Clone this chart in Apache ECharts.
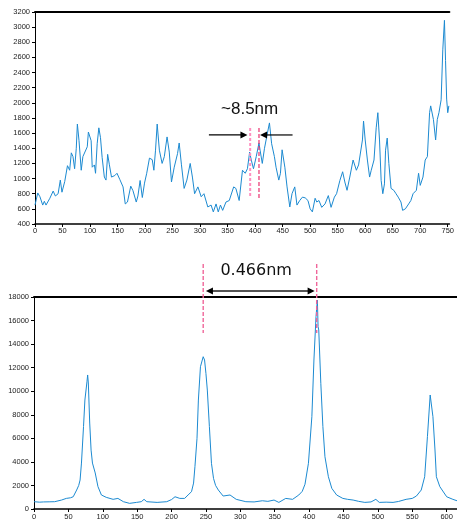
<!DOCTYPE html>
<html>
<head>
<meta charset="utf-8">
<script src="https://cdn.jsdelivr.net/npm/echarts@6/dist/echarts.min.js"></script>
<style>
  html, body { margin: 0; padding: 0; background: #fff; }
  #chart { width: 457px; height: 525px; }
</style>
</head>
<body>
<div id="chart"></div>
<script>
// --- top profile (~8.5nm fringe) ---
var topX = [0,5,9,14,17,20,27,33,37,42,46,49,54,59,63,66,69,72,75,77,80,84,87,90,95,97,102,104,108,110,
  113,116,119,122,126,129,132,135,139,145,149,154,160,164,168,174,178,184,187,191,195,199,203,208,213,216,
  219,222,226,231,235,240,244,248,253,259,262,266,271,276,282,286,290,296,302,307,314,320,324,329,333,337,
  341,347,353,361,365,371,377,382,386,390,393,397,402,407,409,413,417,421,426,430,435,438,443,446,449,454,
  458,463,467,472,476,481,486,491,496,500,504,509,512,516,521,527,533,538,544,548,554,559,563,567,572,578,
  584,588,595,597,600,604,608,611,616,620,623,626,629,632,635,637,640,643,647,652,656,660,665,668,673,679,
  683,687,693,697,700,705,709,713,717,719,724,728,731,734,738,741,744,746,748,750,752];
var topY = [650,810,760,650,700,650,740,835,770,800,980,820,960,1170,1110,1340,1290,1130,1400,1720,1500,1110,1290,1270,1420,1615,1500,1150,1180,1070,
  1460,1670,1540,1280,1020,980,1320,1190,1020,1040,1070,990,890,665,690,900,840,690,770,975,750,940,1070,1270,1250,1110,
  1375,1720,1375,1200,1290,1550,1350,955,1150,1330,1470,1190,870,980,1200,1020,800,890,760,800,625,650,560,665,560,650,
  580,690,710,890,870,710,1110,1070,1130,1350,1245,1130,1290,1470,1375,1200,1400,1550,1735,1460,1290,1150,980,1070,1380,1150,
  890,625,800,890,650,710,755,745,710,600,560,740,690,710,620,665,775,620,755,800,975,1090,955,845,1020,1245,
  1110,1180,1510,1760,1510,1245,1020,1110,1245,1670,1870,1510,975,800,930,1375,1535,1200,870,845,800,755,690,580,600,665,
  710,800,845,1070,910,1020,1245,1290,1870,1960,1780,1510,1780,1870,2040,2700,3090,2560,2050,1870,1960];

// --- bottom profile (0.466nm lattice) ---
var botX = [0,8,14,22,30,40,47,53,57,62,65,67,69,72,74,77,78,79,81,83,85,89,93,98,105,115,122,130,139,149,
  156,160,164,179,193,200,205,212,219,224,229,232,234,237,239,242,246,248,250,252,255,258,261,264,268,275,
  285,294,308,320,332,340,349,356,366,376,385,390,394,399,404,407,410,412,413,414,417,420,423,428,433,440,
  449,456,464,472,481,490,497,502,512,522,530,541,550,556,563,568,572,576,578,580,583,585,590,600,609,615];
var botY = [620,580,600,610,620,760,900,950,1040,1610,2000,2460,3900,7000,9250,10800,11380,10700,7300,5000,3900,3060,1900,1190,990,820,900,620,480,560,
  620,820,620,560,620,800,1040,900,900,1190,1470,2200,3600,6000,9250,12080,12930,12650,11500,10100,7000,3880,2600,2000,1610,1100,
  1190,820,620,600,700,650,760,560,900,820,1190,1500,2100,3880,7840,12650,16330,17740,15480,15200,10670,7000,4440,2740,1750,1190,
  900,820,760,650,560,600,820,560,580,560,640,820,900,1100,1610,2740,6140,9680,9820,7840,5010,2740,1900,1040,820,700];

var topTicksY = [400, 3200, 200];
var botTicksY = [0, 18000, 2000];

var topLabel = '~8.5nm';
var botLabel = '0.466nm';

var lineColor = '#1c8ad1';
var ink = '#000';

function pairs(xs, ys) {
  return xs.map(function(x, i) { return [x, ys[i]]; });
}

var chart = echarts.init(document.getElementById('chart'), null, { renderer: 'canvas' });

var labelStyle = { color: '#222', fontSize: 7.5, fontFamily: 'Liberation Sans' };

function bottomAxis(grid, max, margin) {
  return {
    type: 'value', gridIndex: grid, min: 0, max: max, interval: 50,
    axisLine: { lineStyle: { color: ink, width: 1.6 } },
    axisTick: { length: 3, lineStyle: { color: ink } },
    axisLabel: Object.assign({
      margin: margin, showMaxLabel: false,
      formatter: function(v) { return v % 50 === 0 ? String(v) : ''; }
    }, labelStyle),
    splitLine: { show: false }
  };
}
function topBorder(grid, max) {
  return {
    type: 'value', gridIndex: grid, position: 'top', min: 0, max: max,
    axisLine: { lineStyle: { color: ink, width: 2 } },
    axisTick: { show: false }, axisLabel: { show: false }, splitLine: { show: false }
  };
}
function leftAxis(grid, t) {
  return {
    type: 'value', gridIndex: grid, min: t[0], max: t[1], interval: t[2],
    axisLine: { show: true, lineStyle: { color: ink, width: 1 } },
    axisTick: { show: true, length: 3, lineStyle: { color: ink } },
    axisLabel: Object.assign({ margin: 5, formatter: function(v) { return String(v); } }, labelStyle),
    splitLine: { show: false }
  };
}

chart.setOption({
  animation: false,
  backgroundColor: '#fff',
  grid: [
    { left: 35, right: 0, top: 12, bottom: 301 },
    { left: 34, right: 0, top: 297, bottom: 16 }
  ],
  xAxis: [
    bottomAxis(0, 753, 3), topBorder(0, 753),
    bottomAxis(1, 615, 4), topBorder(1, 615)
  ],
  yAxis: [leftAxis(0, topTicksY), leftAxis(1, botTicksY)],
  series: [
    {
      type: 'line', xAxisIndex: 0, yAxisIndex: 0, data: pairs(topX, topY),
      showSymbol: false, lineStyle: { color: lineColor, width: 1 }
    },
    {
      type: 'line', xAxisIndex: 2, yAxisIndex: 1, data: pairs(botX, botY),
      showSymbol: false, lineStyle: { color: lineColor, width: 1 }
    }
  ]
});

// annotations, placed in data coordinates
function px(axes, x, y) { return chart.convertToPixel(axes, [x, y]); }
var A = { xAxisIndex: 0, yAxisIndex: 0 };
var B = { xAxisIndex: 2, yAxisIndex: 1 };

function vdash(axes, x, y0, y1, color, width, dash) {
  var p0 = px(axes, x, y0), p1 = px(axes, x, y1);
  return { type: 'line', z: 100, shape: { x1: p0[0], y1: p0[1], x2: p1[0], y2: p1[1] },
    style: { stroke: color, lineWidth: width, lineDash: dash } };
}
function head(tip, dir) {
  var tx = tip[0], ty = tip[1], L = 7 * dir;
  return { type: 'polygon', z: 101, shape: { points: [[tx, ty], [tx - L, ty - 3.5], [tx - L, ty + 3.5]] },
    style: { fill: '#000' } };
}
function hline(p0, p1, color, width) {
  return { type: 'line', z: 100, shape: { x1: p0[0], y1: p0[1], x2: p1[0], y2: p1[1] },
    style: { stroke: color, lineWidth: width } };
}

var g = [];
// top
g.push(vdash(A, 391, 1668, 743, '#ff8fc0', 2, [3, 2]));
g.push(vdash(A, 407, 1668, 743, '#e8336f', 1.2, [4, 2]));
var la = px(A, 316, 1576), lt = px(A, 386, 1576);
g.push(hline(la, [lt[0] - 5, lt[1]], '#000', 1.2), head(lt, 1));
var ra = px(A, 468, 1576), rt = px(A, 409, 1576);
g.push(hline(ra, [rt[0] + 5, rt[1]], '#000', 1.2), head(rt, -1));
var tp = px(A, 390, 1919);
g.push({ type: 'text', z: 102, x: tp[0], y: tp[1],
  style: { text: topLabel, fill: '#111', font: '17px "Liberation Sans"', align: 'center', verticalAlign: 'middle' } });
// bottom
g.push(vdash(B, 246, 20800, 14940, '#f0669a', 1.4, [4, 2]));
g.push(vdash(B, 411, 20800, 14940, '#f0669a', 1.4, [4, 2]));
var ba = px(B, 250, 18510), bb = px(B, 408, 18510);
g.push(hline([ba[0] + 5, ba[1]], [bb[0] - 5, bb[1]], '#555', 2), head(ba, -1), head(bb, 1));
var bp = px(B, 323, 20200);
g.push({ type: 'text', z: 102, x: bp[0], y: bp[1],
  style: { text: botLabel, fill: '#111', font: '16px "DejaVu Sans"', align: 'center', verticalAlign: 'middle' } });

chart.setOption({ graphic: g });
</script>
</body>
</html>
